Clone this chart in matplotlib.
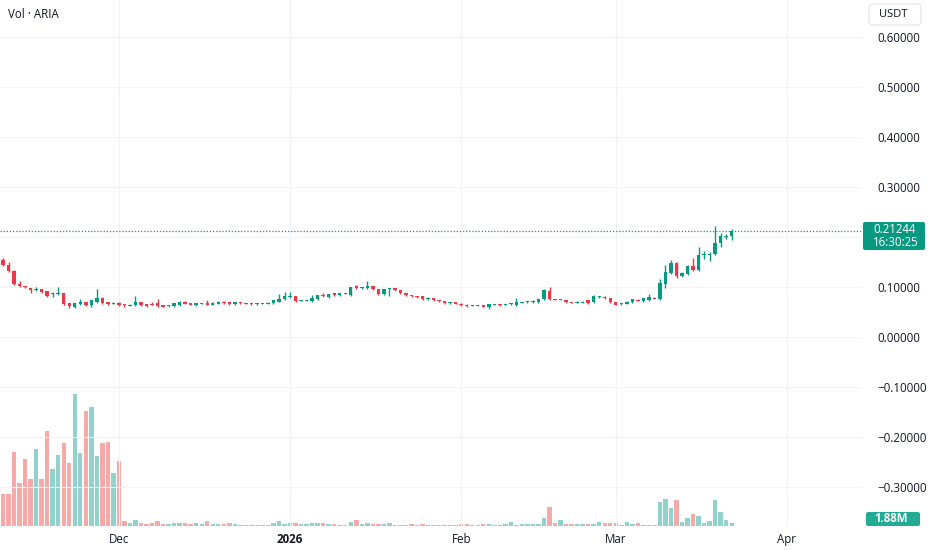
import matplotlib
matplotlib.use("Agg")
import matplotlib.pyplot as plt
import matplotlib.dates as mdates
from matplotlib.patches import FancyBboxPatch
import pandas as pd
import numpy as np

plt.rcParams['font.family'] = ['Open Sans', 'DejaVu Sans']

start_date = "2025-11-10"

opens = [
    .154, .144, .132, .106, .102, .098, .094, .096, .092, .086,
    .086, .088, .068, .060, .066, .070, .064, .070, .078, .070,
    .067, .068, .066, .063, .064, .070, .066, .067, .068, .064,
    .062, .062, .064, .071, .068, .064, .067, .068, .065, .067,
    .071, .070, .066, .069, .068, .068, .066, .066, .067, .068,
    .071, .076, .081, .082, .073, .073, .072, .076, .084, .080,
    .088, .084, .088, .084, .102, .098, .098, .102, .096, .086,
    .096, .098, .094, .088, .084, .082, .082, .076, .078, .074,
    .072, .068, .070, .067, .065, .063, .063, .064, .061, .065,
    .066, .065, .066, .064, .069, .070, .070, .070, .076, .092,
    .076, .075, .074, .070, .069, .069, .074, .070, .080, .081,
    .078, .070, .066, .067, .070, .075, .072, .074, .079, .076,
    .106, .128, .148, .122, .126, .142, .134, .164, .164, .166,
    .188, .201, .202]

closes = [
    .144, .132, .106, .102, .100, .094, .096, .090, .082, .088,
    .088, .066, .062, .068, .070, .064, .074, .078, .068, .066,
    .068, .064, .064, .065, .070, .064, .062, .065, .062, .061,
    .064, .068, .071, .067, .065, .068, .068, .065, .069, .071,
    .069, .066, .070, .068, .067, .066, .067, .067, .069, .074,
    .076, .082, .083, .072, .074, .075, .078, .084, .082, .086,
    .084, .088, .087, .100, .098, .100, .102, .096, .086, .096,
    .098, .094, .088, .084, .082, .080, .076, .078, .074, .072,
    .068, .070, .067, .064, .062, .064, .064, .061, .066, .066,
    .064, .066, .068, .070, .070, .071, .073, .076, .094, .076,
    .075, .076, .070, .069, .071, .071, .068, .082, .082, .078,
    .070, .065, .067, .071, .076, .073, .078, .080, .077, .108,
    .130, .148, .122, .128, .142, .134, .164, .166, .166, .188,
    .202, .203, .21244]

highs = [
    .158, .150, .134, .112, .103, .099, .100, .097, .093, .090,
    .100, .089, .069, .069, .076, .071, .075, .096, .080, .071,
    .070, .070, .067, .066, .082, .071, .067, .070, .076, .065,
    .065, .069, .072, .072, .069, .069, .069, .074, .070, .072,
    .072, .071, .071, .070, .069, .068, .068, .068, .070, .075,
    .086, .090, .090, .083, .075, .076, .084, .085, .088, .087,
    .089, .089, .089, .101, .104, .101, .112, .103, .097, .097,
    .099, .099, .095, .089, .085, .083, .083, .080, .079, .075,
    .073, .071, .071, .068, .066, .065, .065, .065, .067, .067,
    .067, .067, .069, .078, .071, .072, .074, .077, .096, .100,
    .077, .077, .075, .071, .072, .072, .075, .085, .083, .082,
    .079, .071, .068, .072, .077, .076, .079, .086, .080, .116,
    .144, .154, .150, .130, .144, .158, .180, .172, .170, .222,
    .208, .206, .216]

lows = [
    .142, .130, .104, .100, .099, .088, .093, .089, .081, .080,
    .085, .065, .058, .059, .065, .063, .060, .069, .067, .065,
    .066, .063, .060, .062, .063, .063, .060, .064, .061, .060,
    .061, .061, .063, .066, .064, .063, .066, .064, .064, .066,
    .066, .065, .065, .067, .066, .065, .065, .066, .066, .067,
    .070, .074, .079, .071, .072, .072, .071, .075, .080, .078,
    .083, .083, .086, .083, .097, .097, .097, .095, .085, .085,
    .082, .093, .087, .083, .081, .079, .075, .075, .073, .071,
    .067, .067, .066, .063, .061, .062, .062, .060, .056, .064,
    .063, .064, .065, .063, .068, .069, .069, .069, .075, .075,
    .074, .074, .069, .068, .068, .068, .067, .069, .079, .077,
    .069, .064, .065, .066, .069, .072, .071, .073, .076, .075,
    .098, .126, .118, .120, .124, .132, .132, .156, .152, .164,
    .180, .197, .194]

# volume in millions
volumes = [
    22.4, 22.4, 51.8, 30.1, 46.9, 32.9, 53.9, 32.9, 66.5, 39.9,
    49.7, 58.1, 44.1, 92.4, 51.1, 80.5, 83.3, 49.0, 58.1, 58.8,
    37.1, 45.5, 3.5, 1.9, 4.2, 2.3, 1.4, 1.9, 3.3, 1.4,
    1.4, 1.9, 2.3, 1.9, 1.4, 2.3, 1.4, 3.7, 1.4, 1.4,
    1.4, 1.9, 1.4, 0.7, 0.7, 0.7, 0.5, 0.7, 0.7, 1.9,
    3.5, 1.4, 1.9, 1.9, 1.4, 1.4, 2.3, 1.9, 2.3, 1.4,
    1.4, 0.9, 0.9, 3.0, 4.2, 1.4, 1.9, 1.4, 1.4, 1.4,
    1.9, 0.9, 0.9, 0.9, 1.4, 0.9, 1.4, 0.9, 0.9, 0.9,
    0.9, 0.9, 0.9, 1.4, 1.4, 0.9, 0.9, 1.4, 1.4, 0.9,
    0.9, 1.4, 2.8, 0.9, 1.4, 1.4, 1.4, 1.4, 5.8, 13.3,
    2.3, 4.2, 1.2, 1.2, 1.2, 1.2, 1.4, 1.4, 2.8, 1.9,
    1.9, 1.9, 0.9, 3.0, 1.4, 2.3, 0.7, 0.7, 0.7, 16.6,
    18.9, 12.4, 18.2, 2.6, 5.4, 8.2, 7.2, 2.3, 3.5, 18.2,
    9.6, 4.2, 1.88]

price_ticks = [-0.3, -0.2, -0.1, 0.0, 0.1, 0.2, 0.3, 0.4, 0.5, 0.6]
month_ticks = ["2025-12-01", "2026-01-01", "2026-02-01", "2026-03-01", "2026-04-01"]
month_labels = ["Dec", "2026", "Feb", "Mar", "Apr"]
symbol_label = "Vol · ARIA"
currency = "USDT"
last_price_label = "0.21244"
countdown_label = "16:30:25"
last_volume_label = "1.88M"

UP = "#089981"
DOWN = "#F23645"
VUP = "#92d2cc"
VDOWN = "#f7a9a7"
TXT = "#131722"
GRID = "#f0f3fa"

dates = pd.date_range(start_date, periods=len(closes), freq="D")
x = mdates.date2num(dates)
o = np.array(opens); c = np.array(closes); h = np.array(highs); l = np.array(lows)
up = c >= o

W, H = 932, 550
fig = plt.figure(figsize=(W / 100, H / 100), dpi=100)
fig.patch.set_facecolor("white")

ax_left, ax_right, ax_top, ax_bottom = 0, 862, 0, 527
ax = fig.add_axes([ax_left / W, 1 - ax_bottom / H, (ax_right - ax_left) / W, (ax_bottom - ax_top) / H])
vax = ax.twinx()

# Volume
vax.bar(x, volumes, width=0.8, color=[VUP if u else VDOWN for u in up], linewidth=0, zorder=1)
vax.set_ylim(-0.7, 368)
vax.set_yticks([])
for s in vax.spines.values():
    s.set_visible(False)

ax.set_zorder(vax.get_zorder() + 1)
ax.patch.set_visible(False)

# Candles
cols = [UP if u else DOWN for u in up]
ax.vlines(x, l, h, colors=cols, linewidth=1.0, zorder=3)
bottoms = np.minimum(o, c)
heights = np.maximum(np.abs(c - o), 0.0018)
ax.bar(x, heights, bottom=bottoms, width=0.62, color=cols, linewidth=0, zorder=4)

# last price line
ax.axhline(closes[-1], color=UP, linestyle=(0, (1, 1.5)), linewidth=0.9, zorder=2)

ax.set_ylim(-0.38, 0.674)
ax.set_xlim(x[0] - 0.54, x[0] + 155.6)

ax.set_yticks(price_ticks)
def fmt(v):
    if abs(v - 0.2) < 1e-9:
        return ""
    return f"{v:.5f}".replace("-", "\u2212")
ax.set_yticklabels([fmt(v) for v in price_ticks])
ax.yaxis.tick_right()
ax.tick_params(axis="y", length=0, pad=11, labelsize=8.3, labelcolor=TXT)

mt = mdates.date2num(pd.to_datetime(month_ticks))
ax.set_xticks(mt)
ax.set_xticklabels(month_labels)
ax.tick_params(axis="x", length=0, pad=4, labelsize=8.3, labelcolor=TXT)
for t in ax.get_xticklabels():
    if t.get_text() == "2026":
        t.set_fontweight("bold")

ax.grid(True, color=GRID, linewidth=0.8)
ax.set_axisbelow(True)
for s in ax.spines.values():
    s.set_visible(False)

# Title
fig.text(8 / W, 1 - 15 / H, symbol_label, fontsize=8.3, color=TXT, va="center", ha="left")

# USDT box
box = FancyBboxPatch((869 / W, 1 - 25 / H), 52 / W, 21 / H,
                     boxstyle="round,pad=0,rounding_size=0.006",
                     transform=fig.transFigure, facecolor="white", edgecolor="#e0e3eb", linewidth=0.8)
fig.patches.append(box)
fig.text(893 / W, 1 - 14.5 / H, currency, fontsize=8.0, color=TXT, va="center", ha="center")

# Last price label box
pbox = FancyBboxPatch((863 / W, 1 - 250 / H), 62 / W, 28 / H,
                      boxstyle="round,pad=0,rounding_size=0.003",
                      transform=fig.transFigure, facecolor=UP, edgecolor="none")
fig.patches.append(pbox)
fig.text(873 / W, 1 - 229.5 / H, last_price_label, fontsize=8.3, color="white", va="center", ha="left")
fig.text(873 / W, 1 - 242.5 / H, countdown_label, fontsize=8.3, color="white", va="center", ha="left")

# Volume label box
vbox = FancyBboxPatch((866 / W, 1 - 526 / H), 54 / W, 14 / H,
                      boxstyle="round,pad=0,rounding_size=0.003",
                      transform=fig.transFigure, facecolor="#22ab94", edgecolor="none")
fig.patches.append(vbox)
fig.text(874 / W, 1 - 519 / H, last_volume_label, fontsize=8.3, color="white", va="center", ha="left",
         fontweight="bold")

fig.savefig("out.png", dpi=100, facecolor="white")
